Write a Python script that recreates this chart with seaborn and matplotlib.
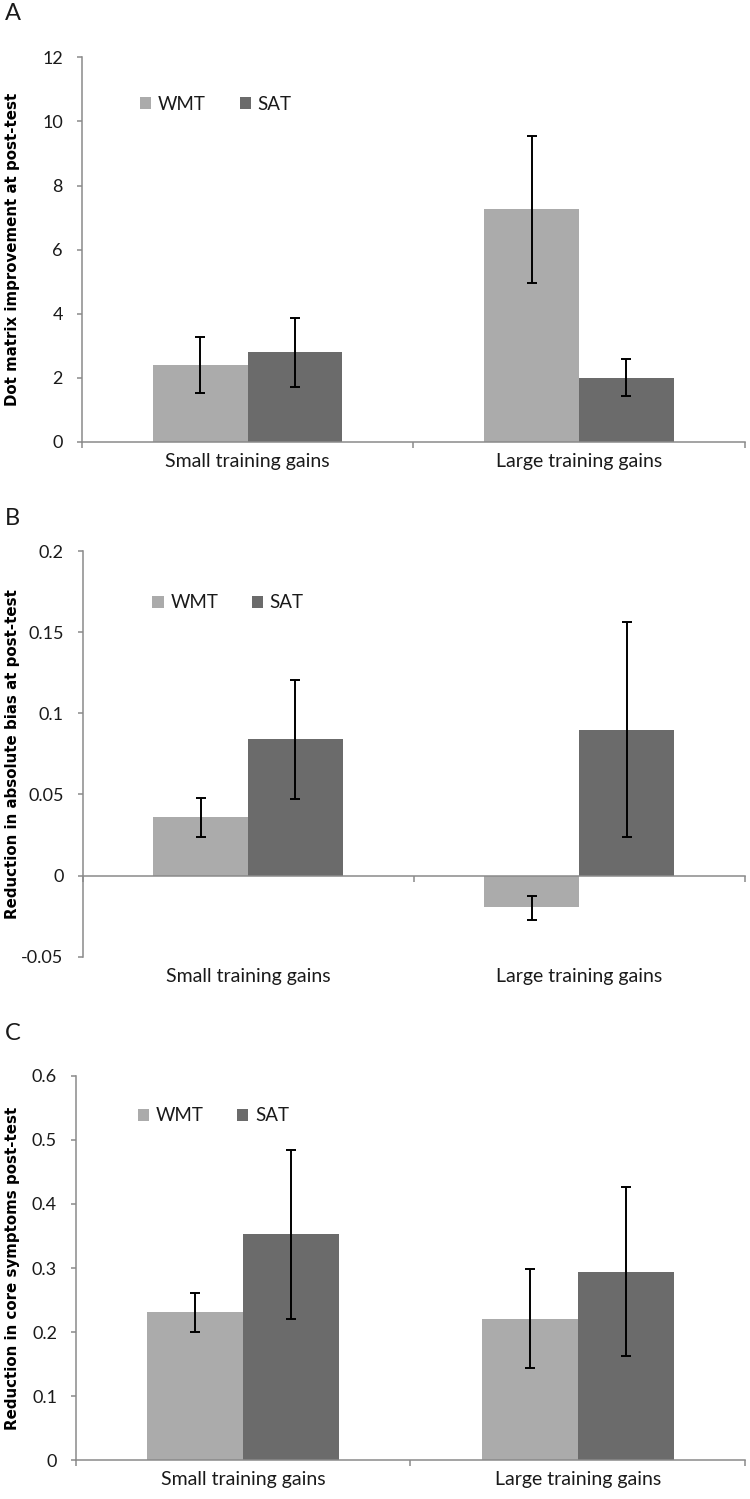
import numpy as np
import pandas as pd
import matplotlib
matplotlib.use("Agg")
import matplotlib.pyplot as plt
import seaborn as sns

# ---------------- data ----------------
categories = ["Small training gains", "Large training gains"]
groups = ["WMT", "SAT"]

# Panel A: Dot matrix improvement at post-test
a_wmt = [2.39, 7.26]
a_sat = [2.79, 2.00]
a_wmt_lo = [1.53, 4.96]
a_wmt_hi = [3.28, 9.54]
a_sat_lo = [1.72, 1.42]
a_sat_hi = [3.87, 2.58]

# Panel B: Reduction in absolute bias at post-test
b_wmt = [0.036, -0.0195]
b_sat = [0.084, 0.090]
b_wmt_lo = [0.024, -0.0271]
b_wmt_hi = [0.048, -0.0127]
b_sat_lo = [0.0474, 0.0236]
b_sat_hi = [0.1204, 0.1563]

# Panel C: Reduction in core symptoms post-test
c_wmt = [0.2307, 0.2203]
c_sat = [0.3526, 0.2938]
c_wmt_lo = [0.2005, 0.1443]
c_wmt_hi = [0.2604, 0.2980]
c_sat_lo = [0.2203, 0.1625]
c_sat_hi = [0.4849, 0.4260]

a_ticks = [0, 2, 4, 6, 8, 10, 12]
b_ticks = [-0.05, 0, 0.05, 0.1, 0.15, 0.2]
c_ticks = [0, 0.1, 0.2, 0.3, 0.4, 0.5, 0.6]

a_ylabel = "Dot matrix improvement at post-test"
b_ylabel = "Reduction in absolute bias at post-test"
c_ylabel = "Reduction in core symptoms post-test"
panel_letters = ["A", "B", "C"]

# ---------------- style ----------------
sns.set_style("white")
plt.rcParams["font.family"] = ["Lato", "DejaVu Sans"]
WMT_COLOR = "#ababab"
SAT_COLOR = "#6b6b6b"
SPINE = "#8a8a8a"
TEXT = "#1a1a1a"

fig = plt.figure(figsize=(7.5, 14.99), dpi=100)

panels = [
    dict(wmt=a_wmt, sat=a_sat, wlo=a_wmt_lo, whi=a_wmt_hi, slo=a_sat_lo, shi=a_sat_hi,
         ticks=a_ticks, ylabel=a_ylabel, rect=[0.109, 0.7053, 0.884, 0.2564],
         leg=(0.088, 0.878), lab_x=-0.093, letter_y=1 - 13 / 1499),
    dict(wmt=b_wmt, sat=b_sat, wlo=b_wmt_lo, whi=b_wmt_hi, slo=b_sat_lo, shi=b_sat_hi,
         ticks=b_ticks, ylabel=b_ylabel, rect=[0.110, 0.3618, 0.883, 0.2706],
         leg=(0.1057, 0.8726), lab_x=-0.0947, letter_y=1 - 518 / 1499),
    dict(wmt=c_wmt, sat=c_sat, wlo=c_wmt_lo, whi=c_wmt_hi, slo=c_sat_lo, shi=c_sat_hi,
         ticks=c_ticks, ylabel=c_ylabel, rect=[0.1013, 0.026, 0.892, 0.2562],
         leg=(0.0922, 0.896), lab_x=-0.0837, letter_y=1 - 1033 / 1499),
]

for letter, p in zip(panel_letters, panels):
    ax = fig.add_axes(p["rect"])
    df = pd.DataFrame({
        "category": categories * 2,
        "group": [groups[0]] * 2 + [groups[1]] * 2,
        "value": list(p["wmt"]) + list(p["sat"]),
    })
    sns.barplot(data=df, x="category", y="value", hue="group", order=categories,
                hue_order=groups, palette=[WMT_COLOR, SAT_COLOR], width=0.573,
                errorbar=None, saturation=1, ax=ax, legend=True, linewidth=0)

    lows = [p["wlo"], p["slo"]]
    highs = [p["whi"], p["shi"]]
    for cont, lo, hi in zip(ax.containers, lows, highs):
        xs = [b.get_x() + b.get_width() / 2 for b in cont]
        vals = np.array([b.get_height() for b in cont])
        lo = np.array(lo); hi = np.array(hi)
        ax.errorbar(xs, vals, yerr=[vals - lo, hi - vals], fmt="none", ecolor="black",
                    elinewidth=1.4, capsize=3.8, capthick=1.4, zorder=5)

    ticks = p["ticks"]
    ax.set_ylim(ticks[0], ticks[-1])
    ax.set_yticks(ticks)
    ax.set_yticklabels([f"{round(t, 4):g}" for t in ticks])
    ax.set_xlim(-0.5, 1.5)
    ax.set_xticks([-0.5, 0.5, 1.5])
    ax.set_xticklabels([])
    ax.set_xlabel("")
    ax.spines["top"].set_visible(False)
    ax.spines["right"].set_visible(False)
    for s in ["left", "bottom"]:
        ax.spines[s].set_color(SPINE)
        ax.spines[s].set_linewidth(1.1)
    ax.spines["bottom"].set_position(("data", 0))
    ax.tick_params(axis="y", direction="out", length=3.6, width=1.1, color=SPINE,
                   pad=10, labelsize=13, labelcolor=TEXT, left=True)
    ax.tick_params(axis="x", direction="out", length=4.5, width=1.1, color=SPINE, bottom=True)

    sec = ax.secondary_xaxis(0)
    sec.set_xticks([0, 1])
    sec.set_xticklabels(categories)
    sec.tick_params(length=0, pad=8, labelsize=14, labelcolor=TEXT)
    sec.spines["bottom"].set_visible(False)

    ax.set_ylabel(p["ylabel"], fontfamily="DejaVu Sans", fontweight="bold",
                  fontsize=10.8, color="black")
    ax.yaxis.set_label_coords(p["lab_x"], 0.5)

    sns.move_legend(ax, loc="center left", bbox_to_anchor=p["leg"], ncol=2, frameon=False,
                    title=None, fontsize=13.5, handlelength=0.6, handleheight=0.6,
                    handletextpad=0.35, columnspacing=1.8, borderpad=0, borderaxespad=0)
    for t in ax.get_legend().get_texts():
        t.set_color(TEXT)

    fig.text(0.017, p["letter_y"], letter, fontsize=17, color=TEXT, va="center", ha="center")

fig.savefig("out.png", dpi=100)
